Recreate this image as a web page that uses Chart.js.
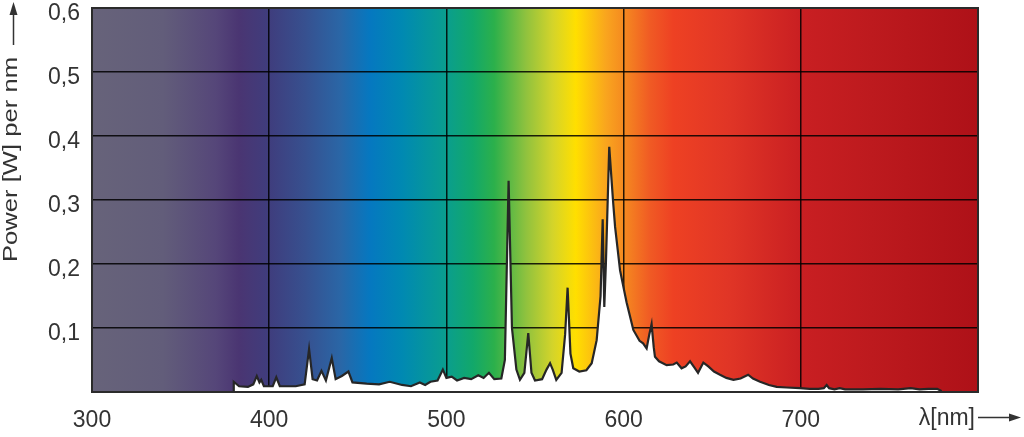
<!DOCTYPE html>
<html>
<head>
<meta charset="utf-8">
<script src="https://cdn.jsdelivr.net/npm/chart.js@4"></script>
<style>
  html, body { margin: 0; padding: 0; background: #fff; }
  #wrap { width: 1024px; height: 437px; }
</style>
</head>
<body>
<div id="wrap"><canvas id="spectrum"></canvas></div>
<script>
// wavelength (nm) and power (W per nm)
var wavelengths = [
    380, 380, 383, 388, 391, 393, 394.5, 395.5, 397, 402, 404, 406, 415, 420, 422.5, 424.5, 427, 429.5, 432, 435.3,
    437.5, 441, 444.7, 447, 455, 462, 468, 475, 480, 485, 488, 491, 495, 498, 500, 503, 506, 510, 514, 518,
    521, 524, 527, 531, 533, 535.1, 537, 539.5, 541.5, 544, 546.2, 548, 550, 554, 556.5, 558.5, 560, 562, 565, 567,
    568.4, 570, 571.6, 575, 579, 582, 584.8, 587, 588.2, 589.1, 590, 591.9, 594, 595.2, 598, 601.7, 605.5, 609, 611, 613,
    614.5, 615.8, 617, 617.7, 620, 624.3, 628, 630, 632.7, 635, 637.5, 640, 642, 645, 647.8, 651, 654.4, 658, 662, 666,
    670.3, 673, 677, 682, 686.4, 692, 699.5, 705, 710, 713, 714.6, 716, 719, 722, 725, 735, 745, 755, 762, 767,
    772, 777, 779, 779
];
var power = [
    0, 0.016, 0.009, 0.008, 0.012, 0.025, 0.015, 0.019, 0.009, 0.009, 0.023, 0.009, 0.009, 0.012, 0.067, 0.02, 0.018, 0.033, 0.018, 0.053,
    0.02, 0.025, 0.032, 0.015, 0.013, 0.012, 0.016, 0.011, 0.009, 0.015, 0.011, 0.016, 0.018, 0.035, 0.022, 0.024, 0.018, 0.022, 0.02, 0.026,
    0.022, 0.03, 0.02, 0.021, 0.05, 0.33, 0.1, 0.035, 0.019, 0.03, 0.092, 0.03, 0.018, 0.02, 0.035, 0.045, 0.035, 0.019, 0.03, 0.09,
    0.163, 0.06, 0.037, 0.032, 0.034, 0.045, 0.081, 0.15, 0.27, 0.133, 0.2, 0.383, 0.3, 0.258, 0.19, 0.14, 0.097, 0.08, 0.076, 0.068,
    0.09, 0.106, 0.07, 0.055, 0.048, 0.042, 0.043, 0.046, 0.037, 0.04, 0.048, 0.038, 0.03, 0.046, 0.04, 0.032, 0.027, 0.022, 0.019, 0.021,
    0.027, 0.021, 0.016, 0.011, 0.008, 0.007, 0.006, 0.005, 0.005, 0.006, 0.011, 0.006, 0.004, 0.006, 0.004, 0.004, 0.005, 0.004, 0.006, 0.004,
    0.005, 0.005, 0.002, 0
];
var xTicks = [300, 400, 500, 600, 700];
var yTickLabels = { 1: '0,1', 2: '0,2', 3: '0,3', 4: '0,4', 5: '0,5', 6: '0,6' };

// colours of the spectrum behind the plot
var bandNm = [300, 340, 370, 383, 400, 420, 440, 457, 475, 500, 515, 527, 545, 560, 573, 590, 600, 615, 628, 660, 700, 740, 800];
var bandColors = ['#67637a', '#625d7a', '#554679', '#4a3572', '#3f3d7d', '#37508f', '#2a66a6', '#0578c0', '#0089b2', '#0a9e8e',
    '#12a86a', '#2cb04b', '#90c23e', '#d4d42a', '#ffdf00', '#f9a51e', '#f58a20', '#f05a24', '#ee4123', '#e03526',
    '#c91f22', '#bd1a1e', '#ae1118'];

var fontFamily = '"Liberation Sans", Arial, Helvetica, sans-serif';
var textColor = '#333';

var spectrumBackground = {
    id: 'spectrumBackground',
    beforeDraw: function (chart) {
        var ctx = chart.ctx, area = chart.chartArea, xs = chart.scales.x;
        var grad = ctx.createLinearGradient(xs.getPixelForValue(300), 0, xs.getPixelForValue(800), 0);
        for (var i = 0; i < bandNm.length; i++) {
            grad.addColorStop((bandNm[i] - 300) / 500, bandColors[i]);
        }
        ctx.save();
        ctx.fillStyle = grad;
        ctx.fillRect(area.left, area.top, area.right - area.left, area.bottom - area.top);
        ctx.restore();
    },
    afterDraw: function (chart) {
        var ctx = chart.ctx, area = chart.chartArea;
        ctx.save();
        // frame
        ctx.strokeStyle = '#2b2b2b';
        ctx.lineWidth = 2;
        ctx.strokeRect(area.left, area.top, area.right - area.left, area.bottom - area.top);

        ctx.fillStyle = textColor;
        ctx.strokeStyle = textColor;
        ctx.lineWidth = 1.5;

        // x axis name with arrow
        ctx.font = '23px ' + fontFamily;
        ctx.textAlign = 'right';
        ctx.textBaseline = 'middle';
        ctx.fillText('λ[nm]', 975, 419);
        ctx.beginPath();
        ctx.moveTo(978, 417.5);
        ctx.lineTo(1012, 417.5);
        ctx.stroke();
        ctx.beginPath();
        ctx.moveTo(1021, 417.5);
        ctx.lineTo(1009, 413.5);
        ctx.lineTo(1009, 421.5);
        ctx.closePath();
        ctx.fill();

        // y axis name with arrow
        ctx.save();
        ctx.translate(17, 262);
        ctx.rotate(-Math.PI / 2);
        ctx.font = '21px ' + fontFamily;
        ctx.textAlign = 'left';
        ctx.textBaseline = 'alphabetic';
        var label = 'Power [W] per nm';
        var w = ctx.measureText(label).width;
        ctx.scale(205 / w, 1);
        ctx.fillText(label, 0, 0);
        ctx.restore();

        ctx.beginPath();
        ctx.moveTo(13.5, 45);
        ctx.lineTo(13.5, 12);
        ctx.stroke();
        ctx.beginPath();
        ctx.moveTo(13.5, 2);
        ctx.lineTo(9.5, 15);
        ctx.lineTo(17.5, 15);
        ctx.closePath();
        ctx.fill();
        ctx.restore();
    }
};

var points = wavelengths.map(function (w, i) {
    return { x: w, y: power[i] };
});

var ctx = document.getElementById('spectrum').getContext('2d');
var spectrumChart = new Chart(ctx, {
    type: 'line',
    data: {
        datasets: [{
            label: 'Power',
            data: points,
            borderColor: '#262626',
            borderWidth: 2.2,
            backgroundColor: '#ffffff',
            fill: 'origin',
            pointRadius: 0,
            tension: 0
        }]
    },
    options: {
        responsive: true,
        maintainAspectRatio: false,
        animation: false,
        layout: {
            padding: { top: 8, right: 46, left: 0, bottom: 0 }
        },
        plugins: {
            legend: { display: false },
            tooltip: { enabled: false }
        },
        scales: {
            x: {
                type: 'linear',
                min: 300,
                max: 800,
                afterFit: function (scale) {
                    scale.height = 45;
                    scale.paddingLeft = 0;
                    scale.paddingRight = 0;
                },
                afterBuildTicks: function (scale) {
                    scale.ticks = xTicks.concat([800]).map(function (v) { return { value: v }; });
                },
                ticks: {
                    padding: 15,
                    color: textColor,
                    font: { family: fontFamily, size: 23 },
                    maxRotation: 0,
                    callback: function (v) { return xTicks.indexOf(v) >= 0 ? String(v) : null; }
                },
                grid: { color: 'rgba(0,0,0,0.85)', lineWidth: 1.5, drawTicks: false },
                border: { display: false }
            },
            y: {
                type: 'linear',
                min: 0,
                max: 0.6,
                afterFit: function (scale) {
                    scale.width = 92;
                    scale.paddingTop = 0;
                    scale.paddingBottom = 0;
                },
                ticks: {
                    stepSize: 0.1,
                    padding: 12,
                    labelOffset: 6,
                    color: textColor,
                    font: { family: fontFamily, size: 23 },
                    callback: function (v) {
                        var k = Math.round(v * 10);
                        return yTickLabels[k] || null;
                    }
                },
                grid: { color: 'rgba(0,0,0,0.85)', lineWidth: 1.5, drawTicks: false },
                border: { display: false }
            }
        }
    },
    plugins: [spectrumBackground]
});
</script>
</body>
</html>
